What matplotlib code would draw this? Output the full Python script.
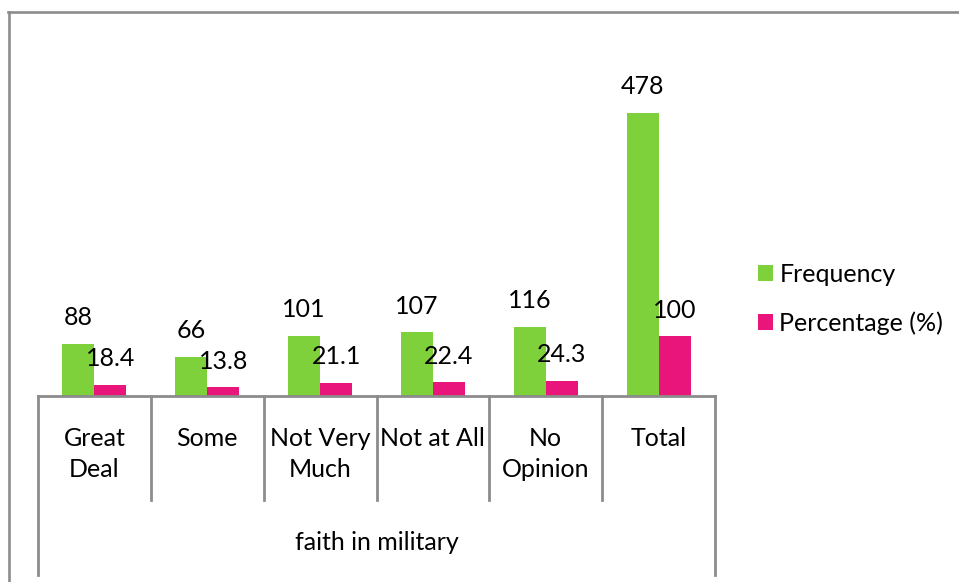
import matplotlib
matplotlib.use("Agg")
import matplotlib.pyplot as plt
from matplotlib.lines import Line2D
from matplotlib.patches import Patch
from matplotlib.transforms import blended_transform_factory

# Survey results: faith in military
categories = ["Great\nDeal", "Some", "Not Very\nMuch", "Not at All", "No\nOpinion", "Total"]
frequency = [88, 66, 101, 107, 116, 478]
percentage = [18.4, 13.8, 21.1, 22.4, 24.3, 100]
percentage_labels = ["18.4", "13.8", "21.1", "22.4", "24.3", "100"]
group_label = "faith in military"
series_names = ["Frequency", "Percentage (%)"]

GREEN = "#7FD13B"
PINK = "#EA157A"
GRID = "#8c8c8c"
FONT = "Lato"
FS = 18

W, H = 959, 582
fig = plt.figure(figsize=(W / 100, H / 100), dpi=100)
plt.rcParams["font.family"] = [FONT, "DejaVu Sans"]

def fx(px):
    return px / W

def fy(py):
    return (H - py) / H

ax_left, ax_right, ax_bottom, ax_top = 38, 715, 395.5, 41
ax = fig.add_axes([fx(ax_left), fy(ax_bottom), fx(ax_right - ax_left), fy(ax_top) - fy(ax_bottom)])

n = len(categories)
x = list(range(n))
bw = 0.284
ax.bar([i - bw / 2 for i in x], frequency, width=bw, color=GREEN, edgecolor="none")
ax.bar([i + bw / 2 for i in x], percentage, width=bw, color=PINK, edgecolor="none")

ax.set_xlim(-0.5, n - 0.5)
ax.set_ylim(0, 600)
for s in ("top", "left", "right", "bottom"):
    ax.spines[s].set_visible(False)
ax.set_xticks([])
ax.set_yticks([])

# value labels above each bar
for i in x:
    ax.annotate(str(frequency[i]), (i - bw / 2, frequency[i]), xytext=(0, 13.5),
                textcoords="offset points", ha="center", va="baseline", fontsize=FS)
    ax.annotate(percentage_labels[i], (i + bw / 2, percentage[i]), xytext=(0, 13.5),
                textcoords="offset points", ha="center", va="baseline", fontsize=FS)

# category axis with two-level grouping lines
tr = blended_transform_factory(ax.transData, fig.transFigure)
lw = 2.0
ax.add_line(Line2D([-0.5, n - 0.5], [fy(ax_bottom), fy(ax_bottom)], transform=tr,
                   color=GRID, lw=lw, clip_on=False))
for k in range(n + 1):
    xb = -0.5 + k
    y_end = 575 if k in (0, n) else 500
    ax.add_line(Line2D([xb, xb], [fy(ax_bottom), fy(y_end)], transform=tr,
                       color=GRID, lw=lw, clip_on=False))

for i, lab in enumerate(categories):
    ax.text(i, fy(427), lab, transform=tr, ha="center", va="top", fontsize=FS,
            linespacing=1.4)

ax.text((n - 1) / 2, fy(543), group_label, transform=tr, ha="center", va="center", fontsize=FS)

# legend
handles = [Patch(facecolor=GREEN, edgecolor="none"), Patch(facecolor=PINK, edgecolor="none")]
fig.legend(handles, series_names, loc="center left", bbox_to_anchor=(fx(758), fy(299)),
           frameon=False, fontsize=FS, handlelength=0.6, handleheight=0.6,
           handletextpad=0.25, labelspacing=1.02, borderpad=0, borderaxespad=0)

# chart frame
fig.add_artist(Line2D([fx(8), fx(W)], [fy(12), fy(12)], transform=fig.transFigure,
                      color=GRID, lw=1.9))
fig.add_artist(Line2D([fx(9), fx(9)], [fy(12), fy(H)], transform=fig.transFigure,
                      color=GRID, lw=1.9))

fig.savefig("out.png", dpi=100)
